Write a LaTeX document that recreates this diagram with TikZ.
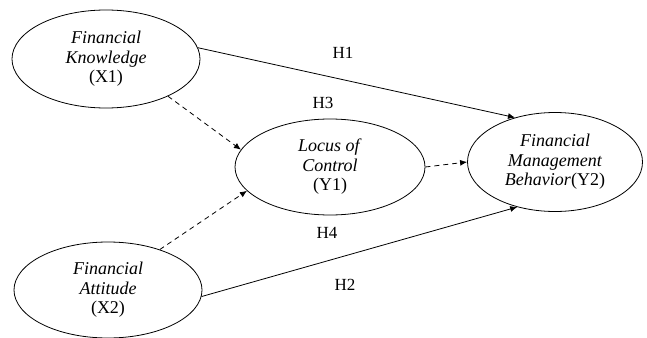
\documentclass[tikz,border=0pt]{standalone}
\usepackage{fontspec}
\setmainfont{Liberation Serif}
\usetikzlibrary{shapes.geometric, arrows.meta}

\begin{document}
\begin{tikzpicture}[x=1pt, y=-1pt,
    construct/.style={draw, ellipse, line width=0.8pt, inner sep=0pt,
      align=center, font=\fontsize{18}{19.5}\selectfont},
    path/.style={line width=0.8pt, -{Latex[length=7pt, width=6pt]}},
    mediated/.style={path, dash pattern=on 5pt off 4pt},
    hyp/.style={font=\fontsize{17}{19}\selectfont}]

  % Fix the page size
  \useasboundingbox (0, 0) rectangle (647, 337);

  % Define constructs
  \node[construct, minimum width=188, minimum height=98] (fk) at (106, 59)
    {\textit{Financial}\\ \textit{Knowledge}\\ (X1)};
  \node[construct, minimum width=188, minimum height=96] (fa) at (108, 290)
    {\textit{Financial}\\ \textit{Attitude}\\ (X2)};
  \node[construct, minimum width=190, minimum height=96] (loc) at (330, 167)
    {\textit{Locus of}\\ \textit{Control}\\ (Y1)};
  \node[construct, minimum width=175, minimum height=99] (fmb) at (555, 162)
    {\textit{Financial}\\ \textit{Management}\\ \textit{Behavior}(Y2)};

  % Direct paths
  \draw[path] (fk.7) -- (fmb.132);
  \draw[path] (fa.-4) -- (fmb.230);

  % Paths through locus of control
  \draw[mediated] (fk.-31) -- (loc.169);
  \draw[mediated] (fa.38) -- (loc.196);
  \draw[mediated] (loc.east) -- (fmb.west);

  % Hypothesis labels
  \node[hyp] (h1) at (343, 53) {H1};
  \node[hyp] (h3) at (323, 103) {H3};
  \node[hyp] (h4) at (327, 233) {H4};
  \node[hyp] (h2) at (345, 285) {H2};

\end{tikzpicture}
\end{document}
